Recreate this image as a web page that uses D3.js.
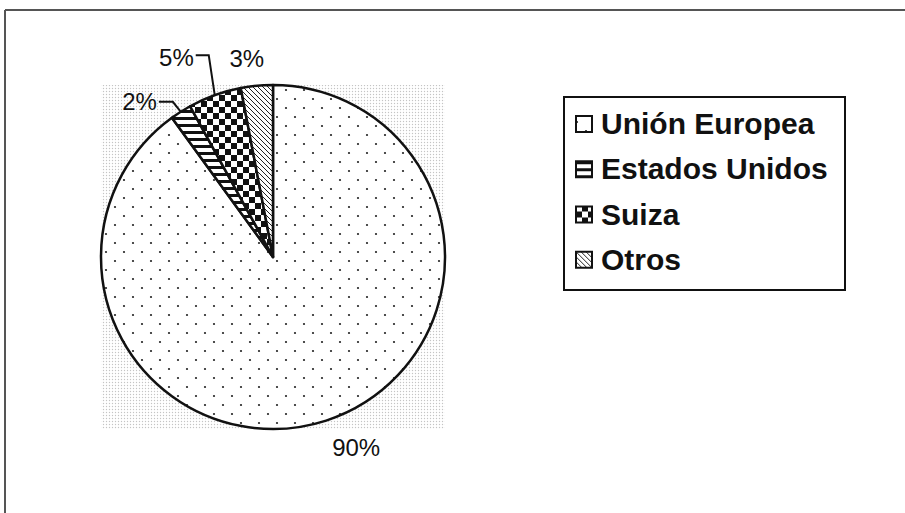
<!DOCTYPE html>
<html>
<head>
<meta charset="utf-8">
<script src="https://cdn.jsdelivr.net/npm/d3@7"></script>
<style>
  body { margin: 0; background: #fff; }
  text { font-family: "Liberation Sans", Arial, sans-serif; fill: #111; }
</style>
</head>
<body>
<svg id="chart" width="905" height="513"></svg>
<script>
// data
var categories = ["Unión Europea", "Estados Unidos", "Suiza", "Otros"];
var values = [90, 2, 5, 3];
var labels = ["90%", "2%", "5%", "3%"];
var patterns = ["dots", "stripes", "checker", "hatch"];

var svg = d3.select("#chart");
var cx = 273, cy = 257, r = 172;

// patterns
var defs = svg.append("defs");

var pg = defs.append("pattern").attr("id", "bggray")
  .attr("width", 3).attr("height", 3).attr("patternUnits", "userSpaceOnUse");
pg.append("circle").attr("cx", 1.5).attr("cy", 1.5).attr("r", 0.7).attr("fill", "#c4c4c4");

var pd = defs.append("pattern").attr("id", "dots")
  .attr("width", 18).attr("height", 18).attr("patternUnits", "userSpaceOnUse");
pd.append("rect").attr("width", 18).attr("height", 18).attr("fill", "#fff");
pd.append("circle").attr("cx", 4).attr("cy", 4).attr("r", 1.1).attr("fill", "#222");
pd.append("circle").attr("cx", 13).attr("cy", 13).attr("r", 1.1).attr("fill", "#222");

var ps = defs.append("pattern").attr("id", "stripes")
  .attr("width", 7).attr("height", 7).attr("patternUnits", "userSpaceOnUse");
ps.append("rect").attr("width", 7).attr("height", 7).attr("fill", "#fff");
ps.append("rect").attr("y", 0).attr("width", 7).attr("height", 3).attr("fill", "#111");

var pc = defs.append("pattern").attr("id", "checker")
  .attr("width", 12).attr("height", 12).attr("patternUnits", "userSpaceOnUse");
pc.append("rect").attr("width", 12).attr("height", 12).attr("fill", "#fff");
pc.append("rect").attr("x", 0).attr("y", 0).attr("width", 6).attr("height", 6).attr("fill", "#111");
pc.append("rect").attr("x", 6).attr("y", 6).attr("width", 6).attr("height", 6).attr("fill", "#111");

var ph = defs.append("pattern").attr("id", "hatch")
  .attr("width", 5).attr("height", 5).attr("patternUnits", "userSpaceOnUse");
ph.append("rect").attr("width", 5).attr("height", 5).attr("fill", "#fff");
ph.append("path").attr("d", "M-1,-1 L6,6 M-1,4 L1,6 M4,-1 L6,1")
  .attr("stroke", "#222").attr("stroke-width", 1);

// page frame (top and left edges only)
svg.append("line").attr("x1", 5).attr("y1", 10).attr("x2", 905).attr("y2", 10)
  .attr("stroke", "#555").attr("stroke-width", 2);
svg.append("line").attr("x1", 5).attr("y1", 10).attr("x2", 5).attr("y2", 513)
  .attr("stroke", "#555").attr("stroke-width", 2);

// faint plot area
svg.append("rect")
  .attr("x", cx - r).attr("y", cy - r)
  .attr("width", 2 * r).attr("height", 2 * r)
  .attr("fill", "url(#bggray)");

var pie = d3.pie().sort(null).value(function(d){ return d; });
var arcs = pie(values);
var arc = d3.arc().innerRadius(0).outerRadius(r);
var edge = d3.arc().innerRadius(r).outerRadius(r);

var g = svg.append("g").attr("transform", "translate(" + cx + "," + cy + ")");

g.selectAll("path.slice").data(arcs).enter().append("path")
  .attr("class", "slice")
  .attr("d", arc)
  .attr("fill", function(d, i){ return "url(#" + patterns[i] + ")"; })
  .attr("stroke", "#111")
  .attr("stroke-width", 2.5)
  .attr("stroke-linejoin", "round");

// label layout: leader polyline offsets from the arc midpoint, and text anchor
var labelLayout = [
  { leader: null, dx: 30, dy: 35, anchor: "middle" },
  { leader: [[-8, -10], [-22, -10]], dx: -24, dy: -2, anchor: "end" },
  { leader: [[-6, -40], [-19, -40]], dx: -21, dy: -29, anchor: "end" },
  { leader: null, dx: -10, dy: -19, anchor: "middle" }
];

arcs.forEach(function(d, i){
  var p = edge.centroid(d);
  var lay = labelLayout[i];
  if (lay.leader) {
    var pts = [p].concat(lay.leader.map(function(o){ return [p[0] + o[0], p[1] + o[1]]; }));
    g.append("path")
      .attr("d", d3.line()(pts))
      .attr("fill", "none")
      .attr("stroke", "#111")
      .attr("stroke-width", 2);
  }
  g.append("text")
    .attr("x", p[0] + lay.dx)
    .attr("y", p[1] + lay.dy)
    .attr("text-anchor", lay.anchor)
    .attr("font-size", 24)
    .text(labels[i]);
});

// legend
var lg = svg.append("g").attr("transform", "translate(564,97)");
lg.append("rect").attr("width", 281).attr("height", 193)
  .attr("fill", "#fff").attr("stroke", "#111").attr("stroke-width", 2);

var rowY = d3.scaleBand().domain(categories).range([12, 193]).paddingInner(0);

var item = lg.selectAll("g.item").data(categories).enter().append("g")
  .attr("class", "item")
  .attr("transform", function(d){ return "translate(0," + rowY(d) + ")"; });

item.append("rect")
  .attr("x", 12).attr("y", 7).attr("width", 16).attr("height", 16)
  .attr("fill", function(d, i){ return "url(#" + patterns[i] + ")"; })
  .attr("stroke", "#111").attr("stroke-width", 2);

item.append("text")
  .attr("x", 37).attr("y", 25)
  .attr("font-size", 30)
  .attr("font-weight", "bold")
  .text(function(d){ return d; });
</script>
</body>
</html>
